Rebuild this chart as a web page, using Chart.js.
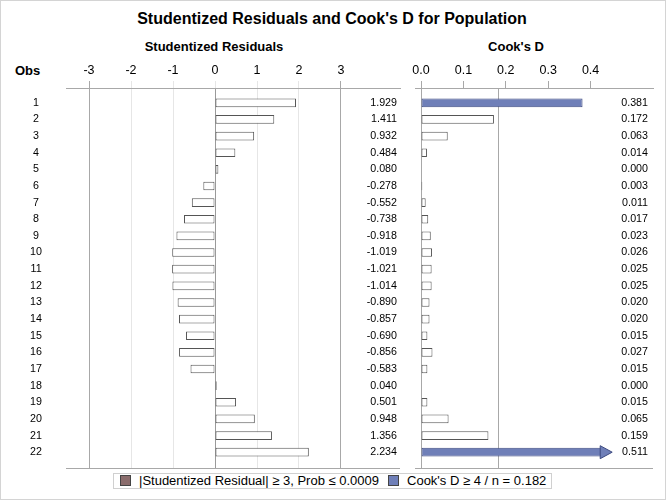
<!DOCTYPE html>
<html>
<head>
<meta charset="utf-8">
<script src="https://cdn.jsdelivr.net/npm/chart.js@4"></script>
<style>
  body { margin: 0; background: #fff; }
  #wrap { position: relative; width: 666px; height: 500px; background: #fff;
          font-family: 'Liberation Sans', Arial, sans-serif; color: #000; }
  #frame { position: absolute; left: 0; top: 0; width: 664px; height: 498px; border: 1px solid #d4d4d4; pointer-events: none; }
  .txt { position: absolute; white-space: nowrap; }
  #title { left: 0; top: 10px; width: 664px; text-align: center; font-weight: bold; font-size: 16px; line-height: 18px; }
  .head { font-weight: bold; font-size: 13px; line-height: 16px; text-align: center; }
  canvas { position: absolute; top: 0; }
  #legend { position: absolute; left: 113px; top: 473px; width: 437px; height: 14px; border: 1px solid #d0d0d0;
            font-size: 13px; line-height: 14px; background: #fff; }
  #legend span.sw { display: inline-block; width: 9px; height: 9px; border: 1px solid #444; vertical-align: -1px; margin: 0 8px 0 6px; }
</style>
</head>
<body>
<div id="wrap">
  <div id="title" class="txt">Studentized Residuals and Cook's D for Population</div>
  <div class="txt head" style="left:114px;top:39px;width:200px;">Studentized Residuals</div>
  <div class="txt head" style="left:466px;top:39px;width:100px;">Cook's D</div>
  <div class="txt head" style="left:15px;top:63px;">Obs</div>
  <canvas id="resid" width="410" height="500" style="left:0;width:410px;height:500px;"></canvas>
  <canvas id="cook" width="261" height="500" style="left:405px;width:261px;height:500px;"></canvas>
  <div id="legend"><span class="sw" style="background:#8a6c6c;"></span>|Studentized Residual| &ge; 3, Prob &le; 0.0009<span class="sw" style="background:#6f7fb8;margin-left:9px;"></span>Cook's D &ge; 4 / n = 0.182</div>
  <div id="frame"></div>
</div>
<script>
var obs = [1, 2, 3, 4, 5, 6, 7, 8, 9, 10, 11, 12, 13, 14, 15, 16, 17, 18, 19, 20, 21, 22];
var residuals = [1.929, 1.411, 0.932, 0.484, 0.080, -0.278, -0.552, -0.738, -0.918, -1.019, -1.021,
                 -1.014, -0.890, -0.857, -0.690, -0.856, -0.583, 0.040, 0.501, 0.948, 1.356, 2.234];
var cooksD = [0.381, 0.172, 0.063, 0.014, 0.000, 0.003, 0.011, 0.017, 0.023, 0.026, 0.025,
              0.025, 0.020, 0.020, 0.015, 0.027, 0.015, 0.000, 0.015, 0.065, 0.159, 0.511];
var residTicks = [-3, -2, -1, 0, 1, 2, 3];
var cookTicks = [0.0, 0.1, 0.2, 0.3, 0.4];
var residLimit = 3;
var cookLimit = 0.182;   // 4 / n
var cookCap = 0.425;     // bars longer than this become arrows

var FONT = "'Liberation Sans', Arial, sans-serif";
var WHITE = '#ffffff', EDGE = '#555555';
var BLUE = '#6f7fb8', BLUE_EDGE = '#3d4a80', BROWN = '#8a6c6c';

// value column at the right side of each plot + bottom line
var valueColumn = {
    id: 'valueColumn',
    afterDatasetsDraw: function (chart, args, opts) {
        var ctx = chart.ctx, area = chart.chartArea, y = chart.scales.y;
        ctx.save();
        ctx.strokeStyle = '#a8a8a8';
        ctx.lineWidth = 1;
        ctx.beginPath();
        ctx.moveTo(area.left, Math.round(area.bottom) + 0.5);
        ctx.lineTo(area.right, Math.round(area.bottom) + 0.5);
        ctx.stroke();
        ctx.font = '10.7px ' + FONT;
        ctx.fillStyle = '#000';
        ctx.textAlign = 'right';
        ctx.textBaseline = 'middle';
        opts.values.forEach(function (v, i) {
            ctx.fillText(v.toFixed(3), area.right - opts.inset, y.getPixelForValue(obs[i]));
        });
        ctx.restore();
    }
};

// reference line + arrow heads for the Cook's D panel
var cookExtras = {
    id: 'cookExtras',
    beforeDatasetsDraw: function (chart) {
        var ctx = chart.ctx, area = chart.chartArea;
        var x = Math.round(chart.scales.x.getPixelForValue(cookLimit)) + 0.5;
        ctx.save();
        ctx.strokeStyle = '#a8a8a8';
        ctx.beginPath();
        ctx.moveTo(x, area.top);
        ctx.lineTo(x, area.bottom);
        ctx.stroke();
        ctx.restore();
    },
    afterDatasetsDraw: function (chart) {
        var ctx = chart.ctx, meta = chart.getDatasetMeta(0);
        ctx.save();
        cooksD.forEach(function (v, i) {
            if (v <= cookCap) return;
            var el = meta.data[i];
            ctx.beginPath();
            ctx.moveTo(el.x - 1, el.y - 6.5);
            ctx.lineTo(el.x + 11, el.y);
            ctx.lineTo(el.x - 1, el.y + 6.5);
            ctx.closePath();
            ctx.fillStyle = BLUE;
            ctx.fill();
            ctx.strokeStyle = BLUE_EDGE;
            ctx.stroke();
        });
        ctx.restore();
    }
};

function obsAxis(width) {
    return {
        type: 'linear', reverse: true, min: 0.11, max: 22.95, offset: false,
        afterBuildTicks: function (s) { s.ticks = obs.map(function (v) { return { value: v }; }); },
        afterFit: function (s) { s.width = width; },
        grid: { display: false, drawTicks: false, offset: false },
        border: { display: false },
        ticks: { crossAlign: 'center', padding: 24, color: '#000', font: { family: FONT, size: 10.7 },
                 callback: function (v) { return String(v); } }
    };
}

var residChart = new Chart(document.getElementById('resid').getContext('2d'), {
    type: 'bar',
    data: {
        datasets: [{
            data: residuals.map(function (v, i) { return { x: v, y: obs[i] }; }),
            backgroundColor: residuals.map(function (v) { return Math.abs(v) >= residLimit ? BROWN : WHITE; }),
            borderColor: EDGE,
            borderWidth: 1,
            borderSkipped: false,
            barPercentage: 0.52,
            categoryPercentage: 1
        }]
    },
    options: {
        indexAxis: 'y',
        responsive: false,
        animation: false,
        devicePixelRatio: 1,
        layout: { padding: { left: 6, right: 10, top: 0, bottom: 32 } },
        scales: {
            x: {
                type: 'linear', position: 'top', min: -3.548, max: 4.405,
                afterBuildTicks: function (s) { s.ticks = residTicks.map(function (v) { return { value: v }; }); },
                afterFit: function (s) { s.height = 88; },
                grid: {
                    tickLength: 7,
                    color: function (c) {
                        var v = c.tick ? c.tick.value : 0;
                        return Math.abs(v) === 3 ? '#a8a8a8' : (v === 0 ? '#9a9a9a' : '#e6e6e6');
                    },
                    tickColor: function (c) {
                        var v = c.tick ? c.tick.value : 0;
                        return Math.abs(v) === 3 ? '#a8a8a8' : '#e6e6e6';
                    }
                },
                border: { display: true, color: '#a8a8a8' },
                ticks: { padding: 3, color: '#000', font: { family: FONT, size: 12.5 },
                         callback: function (v) { return String(v); } }
            },
            y: obsAxis(60)
        },
        plugins: {
            legend: { display: false },
            tooltip: { enabled: false },
            valueColumn: { values: residuals, inset: 3 }
        }
    },
    plugins: [valueColumn]
});

var cookY = obsAxis(0);
cookY.display = false;

var cookChart = new Chart(document.getElementById('cook').getContext('2d'), {
    type: 'bar',
    data: {
        datasets: [{
            data: cooksD.map(function (v, i) { return { x: Math.min(v, cookCap), y: obs[i] }; }),
            backgroundColor: cooksD.map(function (v) { return v > cookLimit ? BLUE : WHITE; }),
            borderColor: cooksD.map(function (v) { return v > cookLimit ? BLUE_EDGE : EDGE; }),
            borderWidth: 1,
            borderSkipped: false,
            barPercentage: 0.52,
            categoryPercentage: 1
        }]
    },
    options: {
        indexAxis: 'y',
        responsive: false,
        animation: false,
        devicePixelRatio: 1,
        layout: { padding: { left: 10, right: 13, top: 0, bottom: 32 } },
        scales: {
            x: {
                type: 'linear', position: 'top', min: -0.0142, max: 0.5472,
                afterBuildTicks: function (s) { s.ticks = cookTicks.map(function (v) { return { value: v }; }); },
                afterFit: function (s) { s.height = 88; },
                grid: {
                    tickLength: 7,
                    color: function (c) { return c.tick && c.tick.value === 0 ? '#a8a8a8' : 'rgba(0,0,0,0)'; },
                    tickColor: '#a8a8a8'
                },
                border: { display: true, color: '#a8a8a8' },
                ticks: { padding: 3, color: '#000', font: { family: FONT, size: 12.5 },
                         callback: function (v) { return Number(v).toFixed(1); } }
            },
            y: cookY
        },
        plugins: {
            legend: { display: false },
            tooltip: { enabled: false },
            valueColumn: { values: cooksD, inset: 5 }
        }
    },
    plugins: [valueColumn, cookExtras]
});
</script>
</body>
</html>
